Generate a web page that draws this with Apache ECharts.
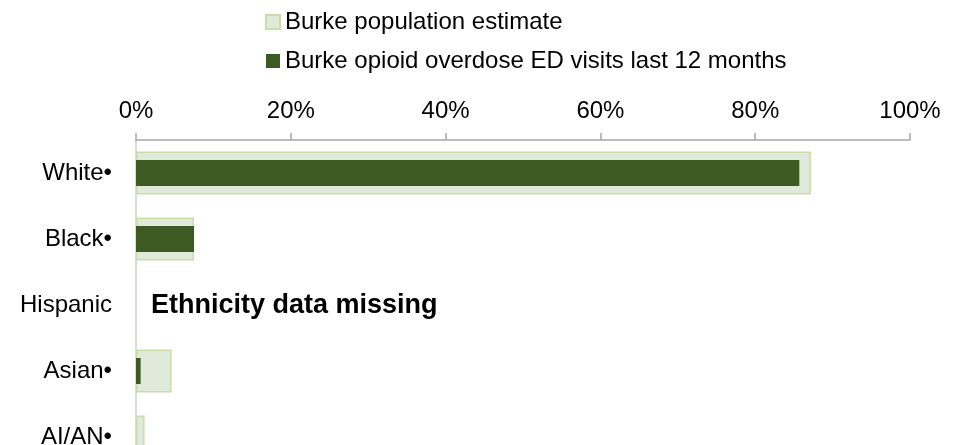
<!DOCTYPE html>
<html>
<head>
<meta charset="utf-8">
<script src="https://cdn.jsdelivr.net/npm/echarts@6/dist/echarts.min.js"></script>
<style>
html,body{margin:0;padding:0;background:#fff;}
#c{width:961px;height:445px;}
</style>
</head>
<body>
<div id="c"></div>
<script>
const categories = ['White•', 'Black•', 'Hispanic', 'Asian•', 'AI/AN•'];
const populationEstimate = [87.2, 7.5, null, 4.6, 1.1];
const edVisits = [85.7, 7.5, null, 0.6, 0];
const xTicks = [0, 20, 40, 60, 80, 100];
const seriesNames = ['Burke population estimate', 'Burke opioid overdose ED visits last 12 months'];
const noteText = 'Ethnicity data missing';

const FONT = 'Liberation Sans, Arial, sans-serif';
const chart = echarts.init(document.getElementById('c'), null, {renderer: 'canvas'});
chart.setOption({
  animation: false,
  backgroundColor: '#ffffff',
  textStyle: {fontFamily: FONT},
  legend: {
    orient: 'vertical',
    left: 260,
    top: 5,
    itemWidth: 14,
    itemHeight: 14,
    itemGap: 15,
    icon: 'rect',
    textStyle: {fontFamily: FONT, fontSize: 24, color: '#000', padding: [0, 0, 0, 0]},
    data: seriesNames
  },
  grid: {left: 136, right: 51, top: 140, bottom: -25, outerBoundsMode: 'none', containLabel: false},
  xAxis: {
    type: 'value',
    position: 'top',
    min: xTicks[0],
    max: xTicks[xTicks.length - 1],
    interval: 20,
    axisLine: {show: true, lineStyle: {color: '#a6a6a6', width: 1.5}},
    axisTick: {show: true, inside: false, length: 7, lineStyle: {color: '#a6a6a6', width: 1.5}},
    splitLine: {show: false},
    axisLabel: {formatter: v => v + '%', fontFamily: FONT, fontSize: 24, color: '#000', margin: 17}
  },
  yAxis: [
    {
      type: 'category',
      data: categories,
      inverse: true,
      axisLine: {show: true, lineStyle: {color: '#d9d9d9', width: 2}},
      axisTick: {show: false},
      axisLabel: {fontFamily: FONT, fontSize: 24, color: '#000', margin: 24}
    },
    {
      type: 'category',
      data: categories,
      inverse: true,
      show: false
    }
  ],
  series: [
    {
      name: seriesNames[0],
      type: 'bar',
      yAxisIndex: 0,
      data: populationEstimate,
      barWidth: 43,
      itemStyle: {color: '#e0eadb', borderColor: '#c8dea6', borderWidth: 1.5},
      z: 2
    },
    {
      name: seriesNames[1],
      type: 'bar',
      yAxisIndex: 1,
      data: edVisits,
      barWidth: 26,
      itemStyle: {color: '#3e5a23'},
      z: 3
    }
  ],
  graphic: [{
    type: 'text',
    left: 151,
    top: 292,
    style: {text: noteText, font: 'bold 27px ' + FONT, fill: '#000'}
  }]
});
</script>
</body>
</html>
